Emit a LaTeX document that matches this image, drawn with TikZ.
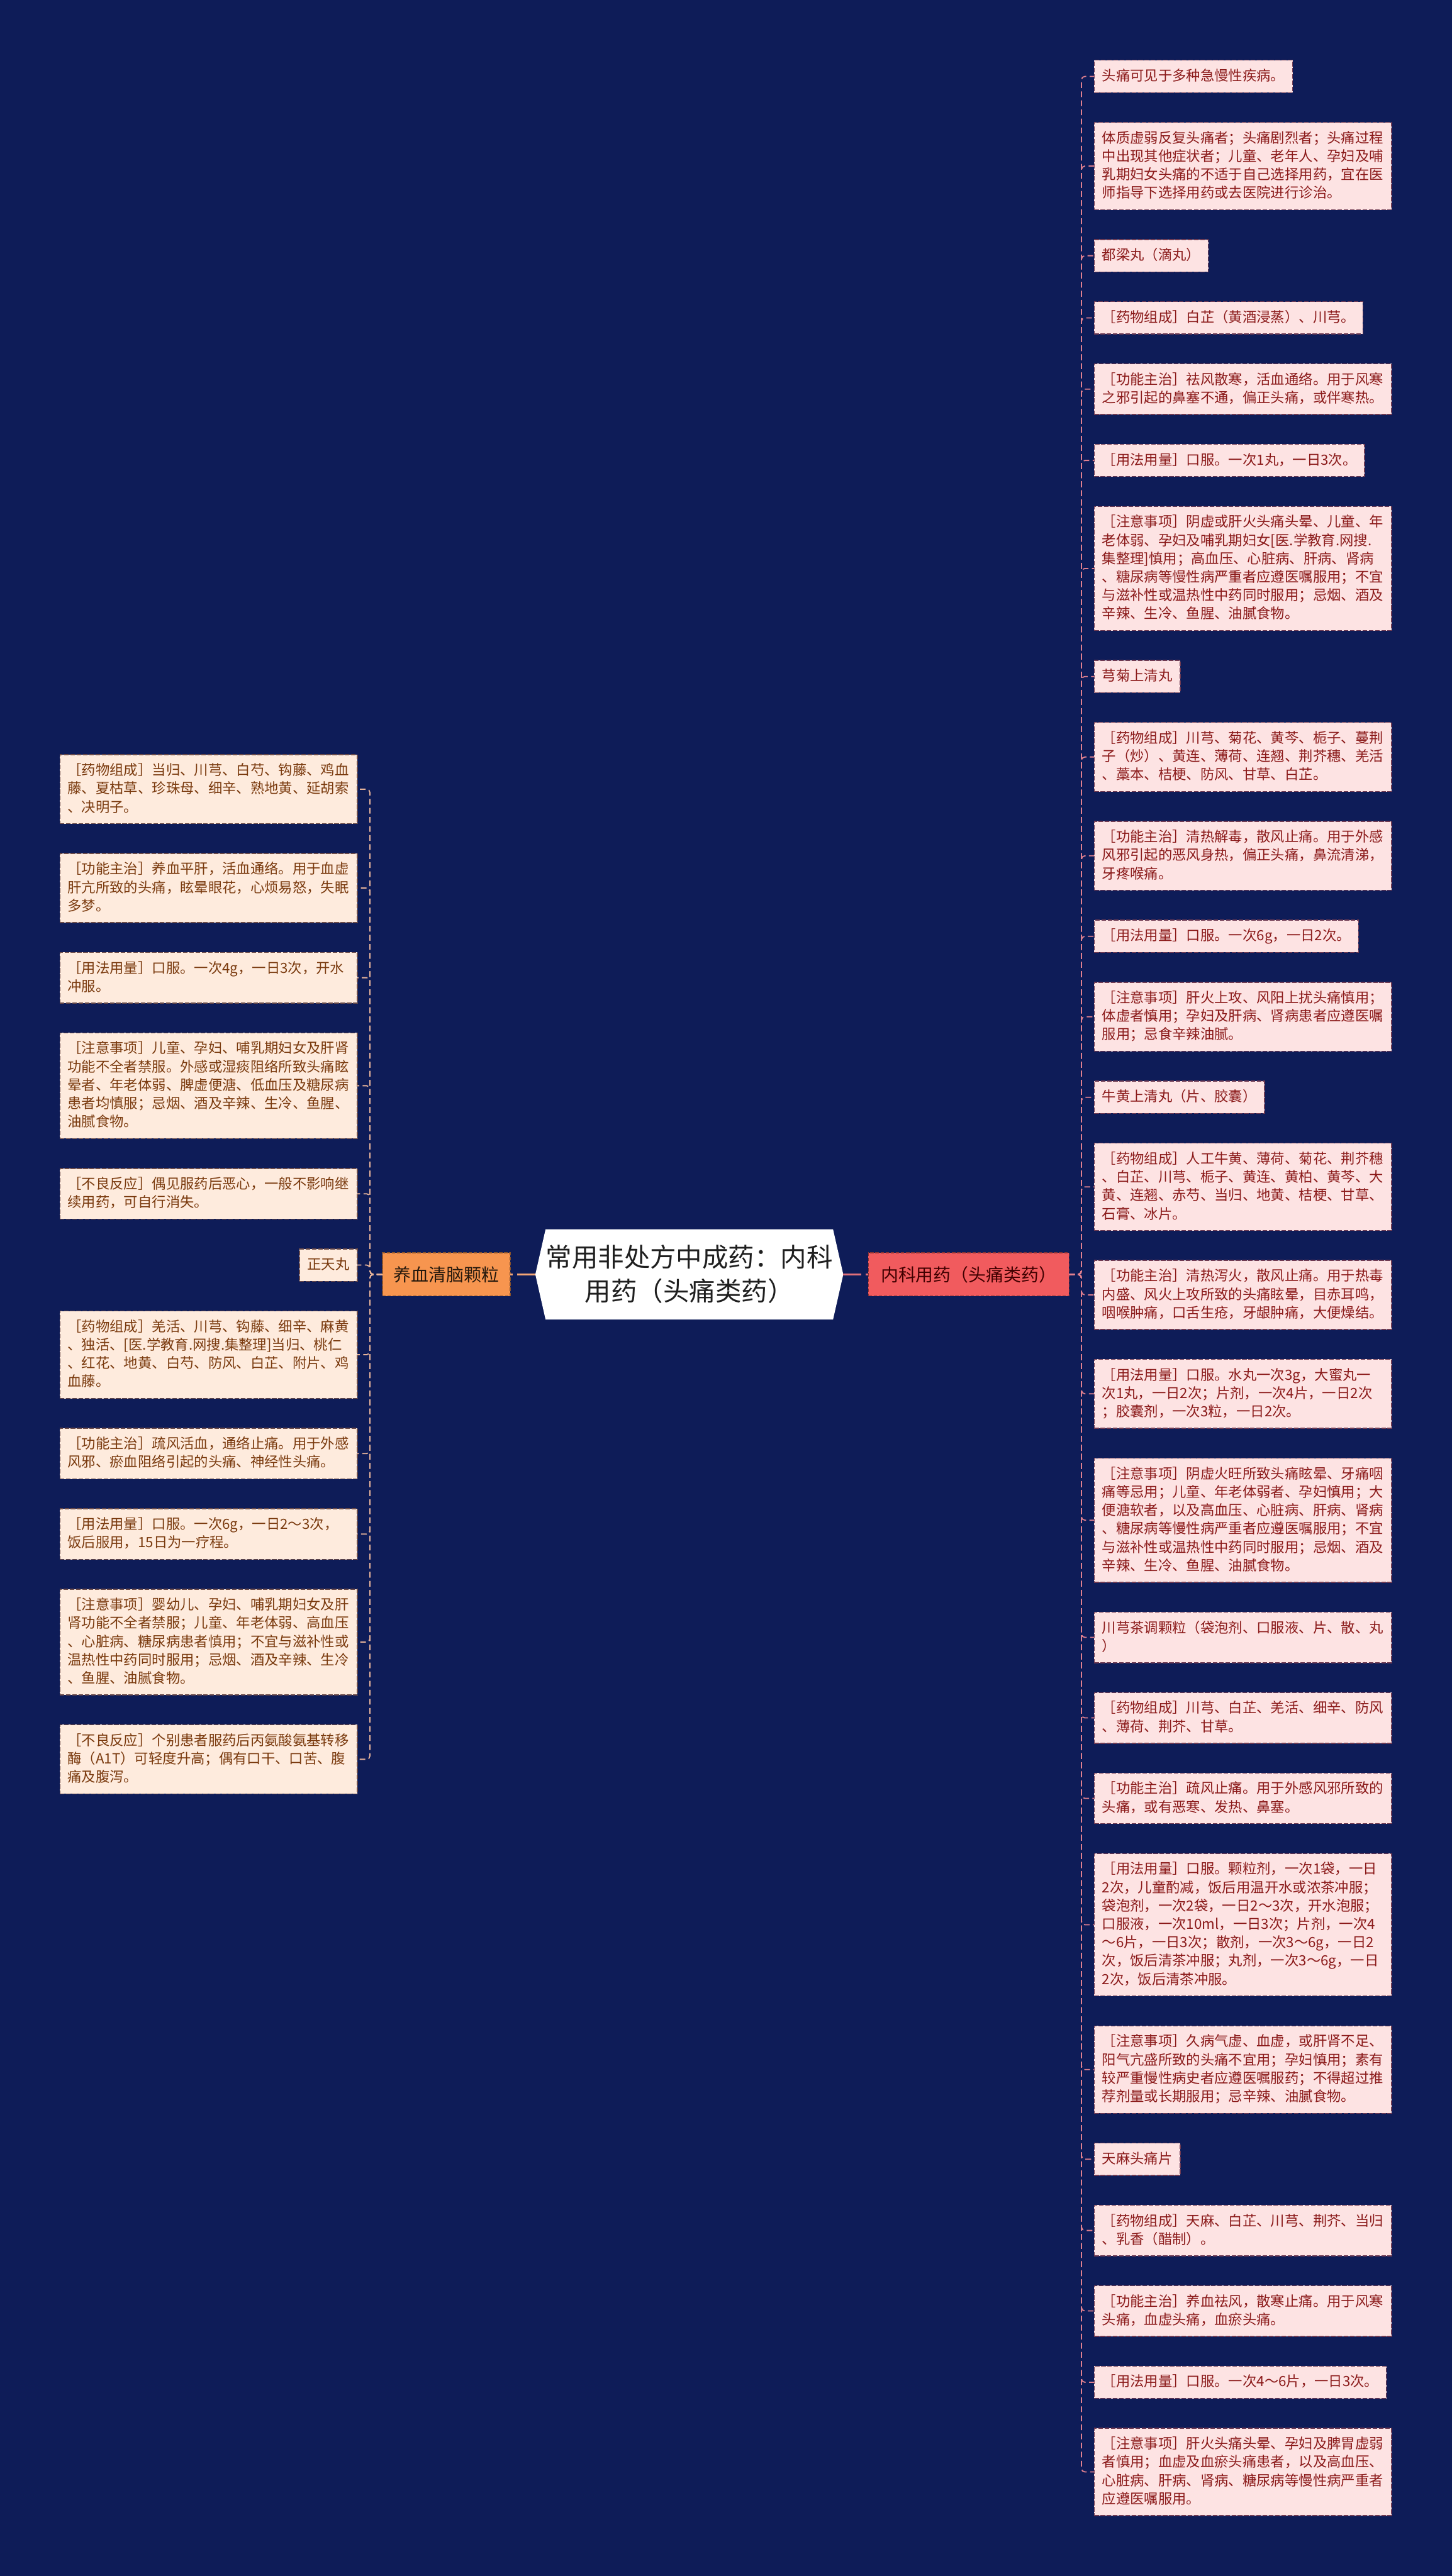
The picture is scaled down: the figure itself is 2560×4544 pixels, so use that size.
\documentclass[tikz,border=0pt]{standalone}
\usepackage{fontspec}
\newfontfamily\cjk{Noto Sans CJK SC}
\usetikzlibrary{backgrounds}
\definecolor{bgc}{HTML}{0E1C58}
\definecolor{rfill}{HTML}{FDE3E3}
\definecolor{rtext}{HTML}{8B1A1A}
\definecolor{rbord}{HTML}{6E3A52}
\definecolor{lfill}{HTML}{FEEBDD}
\definecolor{ltext}{HTML}{7A3A0E}
\definecolor{lbord}{HTML}{6A4A48}
\definecolor{rline}{HTML}{E0808F}
\definecolor{lline}{HTML}{E8B49A}
\definecolor{yfill}{HTML}{F7954F}
\definecolor{nfill}{HTML}{F15B5E}
\definecolor{ylink}{HTML}{F4A675}
\definecolor{nlink}{HTML}{E0707A}
\newcommand\ms{\rule[-4.2pt]{0pt}{16.2pt}}
\tikzset{
 box/.style={line width=0.75pt, dash pattern=on 4pt off 1.5pt, inner xsep=6.85pt, inner ysep=6.15pt, outer sep=0pt, font=\cjk\fontsize{12.4pt}{16.2pt}\selectfont, align=left, execute at begin node=\ms, execute at end node=\ms},
 rbox/.style={box, draw=rbord, fill=rfill, text=rtext, anchor=north west},
 rfull/.style={rbox, text width=248.5pt},
 lbox/.style={box, draw=lbord, fill=lfill, text=ltext, anchor=north east},
 lfull/.style={lbox, text width=248.5pt},
 rconn/.style={draw=rline, line width=1pt, dash pattern=on 5pt off 3pt, rounded corners=3pt},
 lconn/.style={draw=lline, line width=1pt, dash pattern=on 5pt off 3pt, rounded corners=3pt},
 mainlink/.style={line width=2pt, dash pattern=on 16pt off 4pt},
 branch/.style={line width=0.75pt, dash pattern=on 3pt off 1.5pt, minimum height=38pt, inner sep=0pt, outer sep=0pt, font=\cjk\fontsize{15.5pt}{18pt}\selectfont},
 ctr/.style={minimum width=271.5pt, minimum height=79.5pt, inner sep=0pt, outer sep=0pt, align=center, text=black!88, font=\cjk\fontsize{23pt}{30pt}\selectfont},
}
\begin{document}
\begin{tikzpicture}[x=0.5pt,y=-0.5pt]
\path[use as bounding box] (0,0) rectangle (2560,4544);
\begin{scope}[on background layer]
\fill[bgc] (0,0) rectangle (2560,4544);
\end{scope}

% center
\node[ctr] (c) at (1215.5,2248) {常用非处方中成药：内科\\用药（头痛类药）};
\begin{scope}[on background layer]
\fill[white] (c.west) -- ([xshift=9pt]c.north west) -- ([xshift=-9pt]c.north east) -- (c.east) -- ([xshift=-9pt]c.south east) -- ([xshift=9pt]c.south west) -- cycle;
\end{scope}

% branches
\node[branch, fill=yfill, draw=yfill!55!black, text=black!80!brown, minimum width=112.65pt] (yx) at (787,2248) {养血清脑颗粒};
\node[branch, fill=nfill, draw=nfill!55!black, text=black!75!red, minimum width=176.8pt] (nk) at (1708.2,2248) {内科用药（头痛类药）};
\draw[ylink, mainlink] (c.west) -- (yx.east);
\draw[nlink, mainlink] (c.east) -- (nk.west);

% right column
\node[rbox] (r1) at (1929.6,106.3) {头痛可见于多种急慢性疾病。};
\node[rfull] (r2) at ([yshift=-26.28pt]r1.south west) {体质虚弱反复头痛者；头痛剧烈者；头痛过程\\中出现其他症状者；儿童、老年人、孕妇及哺\\乳期妇女头痛的不适于自己选择用药，宜在医\\师指导下选择用药或去医院进行诊治。};
\node[rbox] (r3) at ([yshift=-26.28pt]r2.south west) {都梁丸（滴丸）};
\node[rbox] (r4) at ([yshift=-26.28pt]r3.south west) {［药物组成］白芷（黄酒浸蒸）、川芎。};
\node[rfull] (r5) at ([yshift=-26.28pt]r4.south west) {［功能主治］祛风散寒，活血通络。用于风寒\\之邪引起的鼻塞不通，偏正头痛，或伴寒热。};
\node[rbox] (r6) at ([yshift=-26.28pt]r5.south west) {［用法用量］口服。一次1丸，一日3次。};
\node[rfull] (r7) at ([yshift=-26.28pt]r6.south west) {［注意事项］阴虚或肝火头痛头晕、儿童、年\\老体弱、孕妇及哺乳期妇女[医.学教育.网搜.\\集整理]慎用；高血压、心脏病、肝病、肾病\\、糖尿病等慢性病严重者应遵医嘱服用；不宜\\与滋补性或温热性中药同时服用；忌烟、酒及\\辛辣、生冷、鱼腥、油腻食物。};
\node[rbox] (r8) at ([yshift=-26.28pt]r7.south west) {芎菊上清丸};
\node[rfull] (r9) at ([yshift=-26.28pt]r8.south west) {［药物组成］川芎、菊花、黄芩、栀子、蔓荆\\子（炒）、黄连、薄荷、连翘、荆芥穗、羌活\\、藁本、桔梗、防风、甘草、白芷。};
\node[rfull] (r10) at ([yshift=-26.28pt]r9.south west) {［功能主治］清热解毒，散风止痛。用于外感\\风邪引起的恶风身热，偏正头痛，鼻流清涕，\\牙疼喉痛。};
\node[rbox] (r11) at ([yshift=-26.28pt]r10.south west) {［用法用量］口服。一次6g，一日2次。};
\node[rfull] (r12) at ([yshift=-26.28pt]r11.south west) {［注意事项］肝火上攻、风阳上扰头痛慎用；\\体虚者慎用；孕妇及肝病、肾病患者应遵医嘱\\服用；忌食辛辣油腻。};
\node[rbox] (r13) at ([yshift=-26.28pt]r12.south west) {牛黄上清丸（片、胶囊）};
\node[rfull] (r14) at ([yshift=-26.28pt]r13.south west) {［药物组成］人工牛黄、薄荷、菊花、荆芥穗\\、白芷、川芎、栀子、黄连、黄柏、黄芩、大\\黄、连翘、赤芍、当归、地黄、桔梗、甘草、\\石膏、冰片。};
\node[rfull] (r15) at ([yshift=-26.28pt]r14.south west) {［功能主治］清热泻火，散风止痛。用于热毒\\内盛、风火上攻所致的头痛眩晕，目赤耳鸣，\\咽喉肿痛，口舌生疮，牙龈肿痛，大便燥结。};
\node[rfull] (r16) at ([yshift=-26.28pt]r15.south west) {［用法用量］口服。水丸一次3g，大蜜丸一\\次1丸，一日2次；片剂，一次4片，一日2次\\；胶囊剂，一次3粒，一日2次。};
\node[rfull] (r17) at ([yshift=-26.28pt]r16.south west) {［注意事项］阴虚火旺所致头痛眩晕、牙痛咽\\痛等忌用；儿童、年老体弱者、孕妇慎用；大\\便溏软者，以及高血压、心脏病、肝病、肾病\\、糖尿病等慢性病严重者应遵医嘱服用；不宜\\与滋补性或温热性中药同时服用；忌烟、酒及\\辛辣、生冷、鱼腥、油腻食物。};
\node[rfull] (r18) at ([yshift=-26.28pt]r17.south west) {川芎茶调颗粒（袋泡剂、口服液、片、散、丸\\）};
\node[rfull] (r19) at ([yshift=-26.28pt]r18.south west) {［药物组成］川芎、白芷、羌活、细辛、防风\\、薄荷、荆芥、甘草。};
\node[rfull] (r20) at ([yshift=-26.28pt]r19.south west) {［功能主治］疏风止痛。用于外感风邪所致的\\头痛，或有恶寒、发热、鼻塞。};
\node[rfull] (r21) at ([yshift=-26.28pt]r20.south west) {［用法用量］口服。颗粒剂，一次1袋，一日\\2次，儿童酌减，饭后用温开水或浓茶冲服；\\袋泡剂，一次2袋，一日2～3次，开水泡服；\\口服液，一次10ml，一日3次；片剂，一次4\\～6片，一日3次；散剂，一次3～6g，一日2\\次，饭后清茶冲服；丸剂，一次3～6g，一日\\2次，饭后清茶冲服。};
\node[rfull] (r22) at ([yshift=-26.28pt]r21.south west) {［注意事项］久病气虚、血虚，或肝肾不足、\\阳气亢盛所致的头痛不宜用；孕妇慎用；素有\\较严重慢性病史者应遵医嘱服药；不得超过推\\荐剂量或长期服用；忌辛辣、油腻食物。};
\node[rbox] (r23) at ([yshift=-26.28pt]r22.south west) {天麻头痛片};
\node[rfull] (r24) at ([yshift=-26.28pt]r23.south west) {［药物组成］天麻、白芷、川芎、荆芥、当归\\、乳香（醋制）。};
\node[rfull] (r25) at ([yshift=-26.28pt]r24.south west) {［功能主治］养血祛风，散寒止痛。用于风寒\\头痛，血虚头痛，血瘀头痛。};
\node[rbox] (r26) at ([yshift=-26.28pt]r25.south west) {［用法用量］口服。一次4～6片，一日3次。};
\node[rfull] (r27) at ([yshift=-26.28pt]r26.south west) {［注意事项］肝火头痛头晕、孕妇及脾胃虚弱\\者慎用；血虚及血瘀头痛患者，以及高血压、\\心脏病、肝病、肾病、糖尿病等慢性病严重者\\应遵医嘱服用。};

% left column
\node[lfull] (l1) at (630,1331.2) {［药物组成］当归、川芎、白芍、钩藤、鸡血\\藤、夏枯草、珍珠母、细辛、熟地黄、延胡索\\、决明子。};
\node[lfull] (l2) at ([yshift=-26.28pt]l1.south east) {［功能主治］养血平肝，活血通络。用于血虚\\肝亢所致的头痛，眩晕眼花，心烦易怒，失眠\\多梦。};
\node[lfull] (l3) at ([yshift=-26.28pt]l2.south east) {［用法用量］口服。一次4g，一日3次，开水\\冲服。};
\node[lfull] (l4) at ([yshift=-26.28pt]l3.south east) {［注意事项］儿童、孕妇、哺乳期妇女及肝肾\\功能不全者禁服。外感或湿痰阻络所致头痛眩\\晕者、年老体弱、脾虚便溏、低血压及糖尿病\\患者均慎服；忌烟、酒及辛辣、生冷、鱼腥、\\油腻食物。};
\node[lfull] (l5) at ([yshift=-26.28pt]l4.south east) {［不良反应］偶见服药后恶心，一般不影响继\\续用药，可自行消失。};
\node[lbox] (l6) at ([yshift=-26.28pt]l5.south east) {正天丸};
\node[lfull] (l7) at ([yshift=-26.28pt]l6.south east) {［药物组成］羌活、川芎、钩藤、细辛、麻黄\\、独活、[医.学教育.网搜.集整理]当归、桃仁\\、红花、地黄、白芍、防风、白芷、附片、鸡\\血藤。};
\node[lfull] (l8) at ([yshift=-26.28pt]l7.south east) {［功能主治］疏风活血，通络止痛。用于外感\\风邪、瘀血阻络引起的头痛、神经性头痛。};
\node[lfull] (l9) at ([yshift=-26.28pt]l8.south east) {［用法用量］口服。一次6g，一日2～3次，\\饭后服用，15日为一疗程。};
\node[lfull] (l10) at ([yshift=-26.28pt]l9.south east) {［注意事项］婴幼儿、孕妇、哺乳期妇女及肝\\肾功能不全者禁服；儿童、年老体弱、高血压\\、心脏病、糖尿病患者慎用；不宜与滋补性或\\温热性中药同时服用；忌烟、酒及辛辣、生冷\\、鱼腥、油腻食物。};
\node[lfull] (l11) at ([yshift=-26.28pt]l10.south east) {［不良反应］个别患者服药后丙氨酸氨基转移\\酶（A1T）可轻度升高；偶有口干、口苦、腹\\痛及腹泻。};

% connectors
\foreach \i in {1,...,27} \draw[rconn] (nk.east) -- ++(11pt,0) |- (r\i.west);
\foreach \i in {1,...,11} \draw[lconn] (yx.west) -- ++(-11pt,0) |- (l\i.east);
\end{tikzpicture}
\end{document}
